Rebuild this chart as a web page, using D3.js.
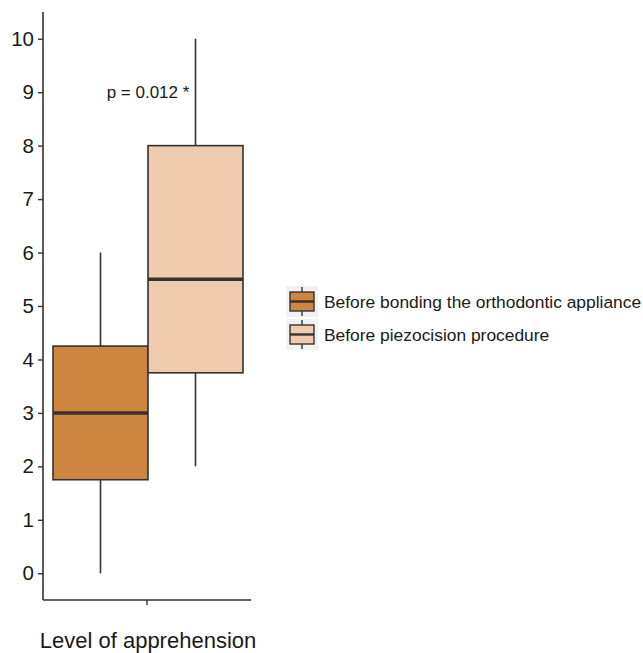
<!DOCTYPE html>
<html>
<head>
<meta charset="utf-8">
<script src="https://cdn.jsdelivr.net/npm/d3@7"></script>
<style>
  body { margin: 0; background: #fff; }
  svg text { font-family: "Liberation Sans", Arial, sans-serif; }
</style>
</head>
<body>
<div class="graphic"></div>
<script>
// data
const groups = ["Before bonding the orthodontic appliance", "Before piezocision procedure"]
const colors = ["#CD853F", "#EECBAD"]
const whiskerLow = [0, 2]
const q1 = [1.75, 3.75]
const medians = [3, 5.5]
const q3 = [4.25, 8]
const whiskerHigh = [6, 10]
const yTicks = [0, 1, 2, 3, 4, 5, 6, 7, 8, 9, 10]
const xLabel = "Level of apprehension"
const pLabel = "p = 0.012 *"

const width = 643
const height = 653

let svg = d3.select(".graphic").append("svg")
    .attr("width", width)
    .attr("height", height)

let y = d3.scaleLinear()
    .domain([-0.5, 10.5])
    .range([600, 12])

let x = d3.scaleBand()
    .domain(groups)
    .range([53, 243])
    .padding(0)

let ink = "#333333"

// y axis
let yAxis = svg.append("g")
    .attr("transform", "translate(43,0)")
    .call(d3.axisLeft(y).tickValues(yTicks).tickSize(5).tickPadding(4))
yAxis.select(".domain").attr("stroke", ink).attr("stroke-width", 1.6)
    .attr("d", "M0," + y(10.5) + "V" + y(-0.5))
yAxis.selectAll(".tick line").attr("stroke", ink).attr("stroke-width", 1.4)
yAxis.selectAll(".tick text")
    .attr("fill", "#1a1a1a")
    .style("font-size", "20.5px")

// x axis
let xCenter = d3.scaleBand().domain([xLabel]).range([43, 251])
let xAxis = svg.append("g")
    .attr("transform", "translate(0,600)")
    .call(d3.axisBottom(xCenter).tickSize(5).tickFormat(""))
xAxis.select(".domain").attr("stroke", ink).attr("stroke-width", 1.6)
    .attr("d", "M43,0H251")
xAxis.selectAll(".tick line").attr("stroke", ink).attr("stroke-width", 1.4)

svg.append("text")
    .attr("x", 148)
    .attr("y", 648)
    .attr("text-anchor", "middle")
    .attr("fill", "#1a1a1a")
    .style("font-size", "22px")
    .text(xLabel)

// boxes
groups.forEach(function(g, i){
    let cx = x(g) + x.bandwidth() / 2
    let bg = svg.append("g")

    bg.append("line")
        .attr("x1", cx).attr("x2", cx)
        .attr("y1", y(whiskerLow[i])).attr("y2", y(q1[i]))
        .attr("stroke", ink).attr("stroke-width", 1.6)
    bg.append("line")
        .attr("x1", cx).attr("x2", cx)
        .attr("y1", y(q3[i])).attr("y2", y(whiskerHigh[i]))
        .attr("stroke", ink).attr("stroke-width", 1.6)

    bg.append("rect")
        .attr("x", x(g))
        .attr("y", y(q3[i]))
        .attr("width", x.bandwidth())
        .attr("height", y(q1[i]) - y(q3[i]))
        .attr("fill", colors[i])
        .attr("stroke", ink)
        .attr("stroke-width", 1.6)

    bg.append("line")
        .attr("x1", x(g)).attr("x2", x(g) + x.bandwidth())
        .attr("y1", y(medians[i])).attr("y2", y(medians[i]))
        .attr("stroke", ink).attr("stroke-width", 3.5)
})

svg.append("text")
    .attr("x", 148)
    .attr("y", y(9) + 6)
    .attr("text-anchor", "middle")
    .attr("fill", "#1a1a1a")
    .style("font-size", "17px")
    .text(pLabel)

// legend
let legend = svg.append("g").attr("transform", "translate(286,286)")
groups.forEach(function(g, i){
    let row = legend.append("g").attr("transform", "translate(0," + (i * 33) + ")")
    row.append("rect")
        .attr("width", 32).attr("height", 31)
        .attr("fill", "#F2F2F2")
    row.append("line")
        .attr("x1", 16).attr("x2", 16)
        .attr("y1", 1).attr("y2", 30)
        .attr("stroke", ink).attr("stroke-width", 1.4)
    row.append("rect")
        .attr("x", 4).attr("y", 6)
        .attr("width", 24).attr("height", 19)
        .attr("fill", colors[i])
        .attr("stroke", ink).attr("stroke-width", 1.4)
    row.append("line")
        .attr("x1", 4).attr("x2", 28)
        .attr("y1", 15.5).attr("y2", 15.5)
        .attr("stroke", ink).attr("stroke-width", 2.4)
    row.append("text")
        .attr("x", 38)
        .attr("y", 21.5)
        .attr("fill", "#1a1a1a")
        .style("font-size", "17.4px")
        .text(g)
})
</script>
</body>
</html>
